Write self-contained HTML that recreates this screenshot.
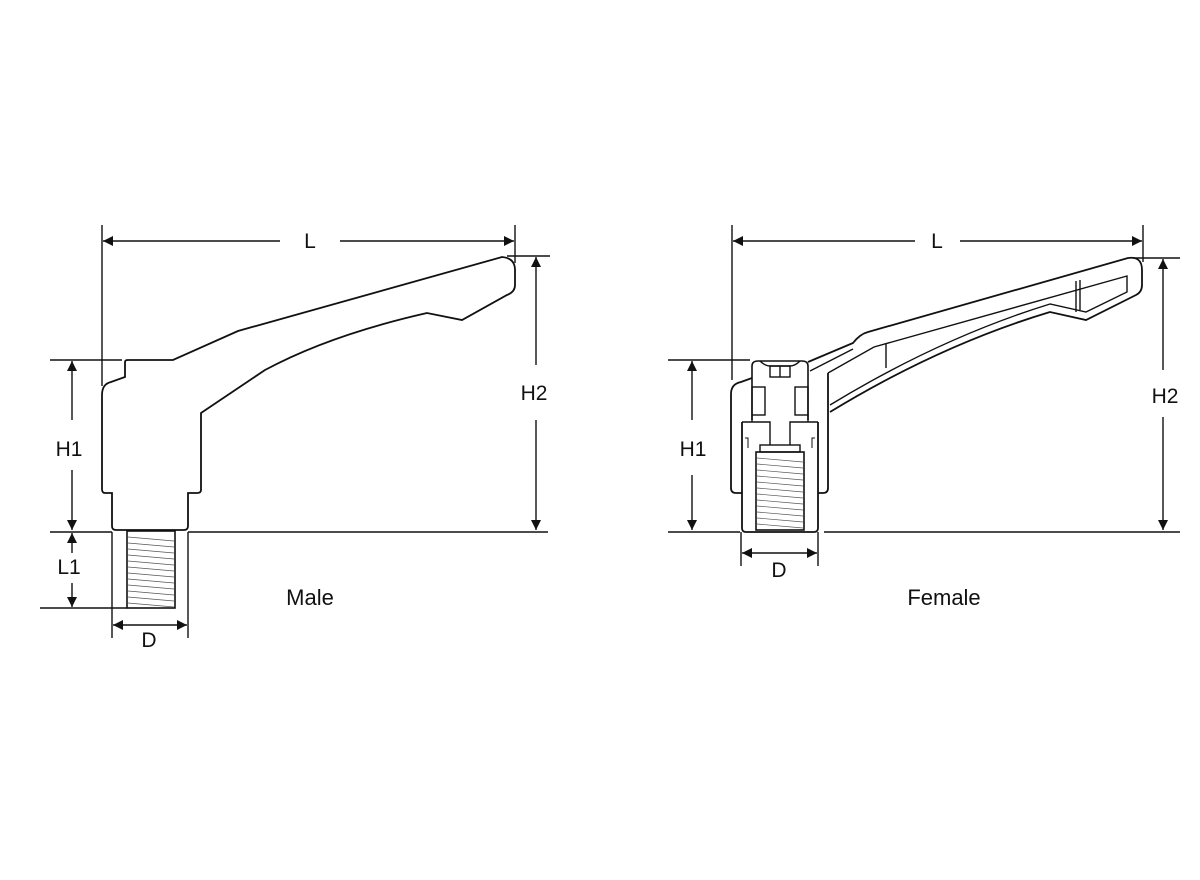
<!DOCTYPE html>
<html><head><meta charset="utf-8"><style>
html,body{margin:0;padding:0;background:#fff;}
svg{display:block;}
text{font-family:"Liberation Sans",sans-serif;fill:#111;}
</style></head><body>
<svg width="1200" height="880" viewBox="0 0 1200 880" xmlns="http://www.w3.org/2000/svg">
<defs>
<marker id="a" viewBox="0 0 10 10" refX="10" refY="5" markerWidth="14" markerHeight="10" markerUnits="userSpaceOnUse" orient="auto-start-reverse">
<path d="M0,0 L10,5 L0,10 z" fill="#111"/></marker>
</defs>
<g stroke="#111" fill="none" stroke-width="1.4">
<!-- MALE -->
<line x1="102" y1="225" x2="102" y2="386"/>
<line x1="515" y1="225" x2="515" y2="263"/>
<line x1="103" y1="241" x2="280" y2="241" marker-start="url(#a)"/>
<line x1="340" y1="241" x2="514" y2="241" marker-end="url(#a)"/>
<path stroke-width="1.8" d="M102,395 Q102,384 111,382 L125,377 L125,362 Q125,360 128,360 L173,360 L238,331 L502,257 Q515,258 515,270 L515,285 Q515,292 507,295 L462,320 L427,313 Q330,335 265,370 L201,413 L201,490 Q201,493 197,493 L188,493 L188,526 Q188,530 184,530 L116,530 Q112,530 112,526 L112,493 L105,493 Q102,493 102,489 Z"/>
<line x1="50" y1="360" x2="122" y2="360"/>
<line x1="72" y1="361" x2="72" y2="420" marker-start="url(#a)"/>
<line x1="72" y1="470" x2="72" y2="530" marker-end="url(#a)"/>
<line x1="50" y1="532" x2="112" y2="532"/>
<line x1="188" y1="532" x2="548" y2="532"/>
<line x1="112" y1="532" x2="112" y2="638"/>
<line x1="188" y1="532" x2="188" y2="638"/>
<rect x="127" y="531" width="48" height="77" stroke-width="1.6"/>
<g stroke-width="0.7" stroke="#555">
<line x1="128" y1="537" x2="174" y2="541"/><line x1="128" y1="543" x2="174" y2="547"/>
<line x1="128" y1="549" x2="174" y2="553"/><line x1="128" y1="555" x2="174" y2="559"/>
<line x1="128" y1="561" x2="174" y2="565"/><line x1="128" y1="567" x2="174" y2="571"/>
<line x1="128" y1="573" x2="174" y2="577"/><line x1="128" y1="579" x2="174" y2="583"/>
<line x1="128" y1="585" x2="174" y2="589"/><line x1="128" y1="591" x2="174" y2="595"/>
<line x1="128" y1="597" x2="174" y2="601"/><line x1="128" y1="603" x2="174" y2="607"/>
</g>
<line x1="40" y1="608" x2="127" y2="608"/>
<line x1="72" y1="533" x2="72" y2="553" marker-start="url(#a)"/>
<line x1="72" y1="583" x2="72" y2="607" marker-end="url(#a)"/>
<line x1="113" y1="625" x2="187" y2="625" marker-start="url(#a)" marker-end="url(#a)"/>
<line x1="507" y1="256" x2="550" y2="256"/>
<line x1="536" y1="257" x2="536" y2="365" marker-start="url(#a)"/>
<line x1="536" y1="420" x2="536" y2="530" marker-end="url(#a)"/>

<!-- FEMALE -->
<line x1="732" y1="225" x2="732" y2="380"/>
<line x1="1143" y1="225" x2="1143" y2="262"/>
<line x1="733" y1="241" x2="915" y2="241" marker-start="url(#a)"/>
<line x1="960" y1="241" x2="1142" y2="241" marker-end="url(#a)"/>
<!-- outer housing -->
<path stroke-width="1.8" d="M742,493 L736,493 Q731,493 731,488 L731,394 Q731,384 741,382 L752,378"/>
<path stroke-width="1.8" d="M818,493 L823,493 Q828,493 828,488 L828,373"/>
<!-- lever outer outline -->
<path stroke-width="1.8" d="M808,362 L853,343 Q860,334 868,332 L1128,258 Q1142,256 1142,270 L1142,285 Q1142,292 1136,295 L1086,320 L1050,312 Q940,345 830,412"/>
<!-- lever inner outline -->
<path stroke-width="1.4" d="M828,373 L874,347 L1127,276 L1127,292 L1086,312 L1050,304 Q940,338 830,405"/>
<path d="M810,371 L853,349"/>
<line x1="886" y1="344" x2="886" y2="368"/>
<line x1="1076" y1="281" x2="1076" y2="312"/>
<line x1="1080" y1="280" x2="1080" y2="310"/>
<!-- cap -->
<path stroke-width="1.6" d="M752,420 L752,366 Q752,361 758,361 L802,361 Q808,361 808,366 L808,420"/>
<path d="M760,361 Q765,366 770,366 L790,366 Q795,366 800,361"/>
<rect x="770" y="366" width="20" height="11"/><line x1="780" y1="366" x2="780" y2="377"/>
<rect x="752" y="387" width="13" height="28"/>
<rect x="795" y="387" width="13" height="28"/>
<!-- lower sleeve -->
<path stroke-width="1.8" d="M742,422 L742,528 Q742,532 746,532 L814,532 Q818,532 818,528 L818,422"/>
<path d="M742,422 L770,422 L770,445 M818,422 L790,422 L790,445"/>
<path d="M752,415 L752,422 M808,415 L808,422"/>
<path d="M745,438 L748,438 L748,448 M815,438 L812,438 L812,448" stroke-width="1"/>
<rect x="760" y="445" width="40" height="7"/>
<rect x="756" y="452" width="48" height="78" stroke-width="1.6"/>
<g stroke-width="0.7" stroke="#555">
<line x1="757" y1="458" x2="803" y2="462"/><line x1="757" y1="464" x2="803" y2="468"/>
<line x1="757" y1="470" x2="803" y2="474"/><line x1="757" y1="476" x2="803" y2="480"/>
<line x1="757" y1="482" x2="803" y2="486"/><line x1="757" y1="488" x2="803" y2="492"/>
<line x1="757" y1="494" x2="803" y2="498"/><line x1="757" y1="500" x2="803" y2="504"/>
<line x1="757" y1="506" x2="803" y2="510"/><line x1="757" y1="512" x2="803" y2="516"/>
<line x1="757" y1="518" x2="803" y2="522"/><line x1="757" y1="524" x2="803" y2="528"/>
</g>
<line x1="668" y1="360" x2="750" y2="360"/>
<line x1="692" y1="361" x2="692" y2="420" marker-start="url(#a)"/>
<line x1="692" y1="475" x2="692" y2="530" marker-end="url(#a)"/>
<line x1="668" y1="532" x2="740" y2="532"/>
<line x1="824" y1="532" x2="1180" y2="532"/>
<line x1="741" y1="532" x2="741" y2="566"/>
<line x1="818" y1="532" x2="818" y2="566"/>
<line x1="742" y1="553" x2="817" y2="553" marker-start="url(#a)" marker-end="url(#a)"/>
<line x1="1133" y1="258" x2="1180" y2="258"/>
<line x1="1163" y1="259" x2="1163" y2="370" marker-start="url(#a)"/>
<line x1="1163" y1="417" x2="1163" y2="530" marker-end="url(#a)"/>
</g>
<g font-size="21" text-anchor="middle">
<text x="310" y="248">L</text>
<text x="69" y="456">H1</text>
<text x="69" y="574">L1</text>
<text x="149" y="647">D</text>
<text x="534" y="400">H2</text>
<text x="310" y="605" font-size="22">Male</text>
<text x="937" y="248">L</text>
<text x="693" y="456">H1</text>
<text x="779" y="577">D</text>
<text x="1165" y="403">H2</text>
<text x="944" y="605" font-size="22">Female</text>
</g>
</svg>
</body></html>
